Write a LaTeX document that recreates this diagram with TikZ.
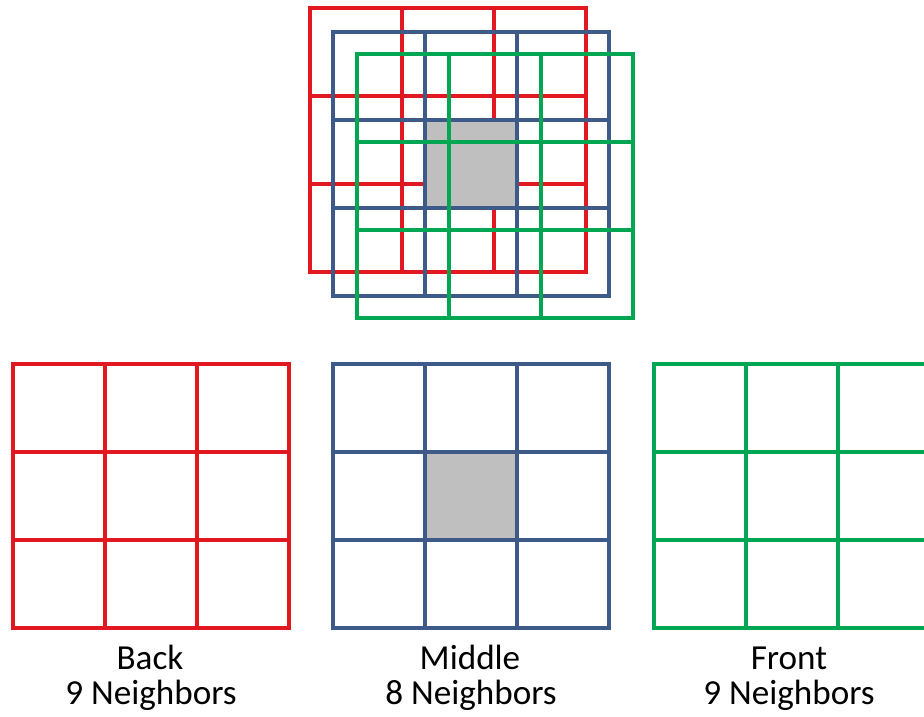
\documentclass[tikz,border=0pt]{standalone}
\usepackage{fontspec}
\setmainfont{Carlito}
\usetikzlibrary{positioning}

\definecolor{backred}{RGB}{226,24,32}
\definecolor{midblue}{RGB}{62,90,136}
\definecolor{frontgreen}{RGB}{0,166,81}
\definecolor{cellgray}{RGB}{191,191,191}

\begin{document}
\begin{tikzpicture}[
    x=0.02cm, y=-0.02cm,
    line width=2pt,
    caption/.style={font=\fontsize{20}{24}\selectfont, anchor=base, inner sep=0pt},
    ninegrid/.pic={
        \draw (0,0) rectangle (276,264);
        \foreach \k in {1,2} {
            \draw (92*\k,0) -- (92*\k,264);
            \draw (0,88*\k) -- (276,88*\k);
        }
    }
]
\path[use as bounding box] (0,0) rectangle (924,717);
\clip (0,0) rectangle (924,717);

% stacked layers
\pic[backred] (stackback) at (310,8) {ninegrid};
\fill[cellgray] (425,120) rectangle (517,208);
\pic[midblue] (stackmid) at (333,32) {ninegrid};
\pic[frontgreen] (stackfront) at (357,54) {ninegrid};

% single layers
\pic[backred] (back) at (13,364) {ninegrid};
\fill[cellgray] (425,452) rectangle (517,540);
\pic[midblue] (mid) at (333,364) {ninegrid};
\pic[frontgreen] (front) at (654,364) {ninegrid};

\node[caption] (backname) at (150,669) {Back};
\node[caption] (backcount) at (151,704) {9 Neighbors};
\node[caption] (midname) at (470,669) {Middle};
\node[caption] (midcount) at (471,704) {8 Neighbors};
\node[caption] (frontname) at (789,669) {Front};
\node[caption] (frontcount) at (789,704) {9 Neighbors};
\end{tikzpicture}
\end{document}
